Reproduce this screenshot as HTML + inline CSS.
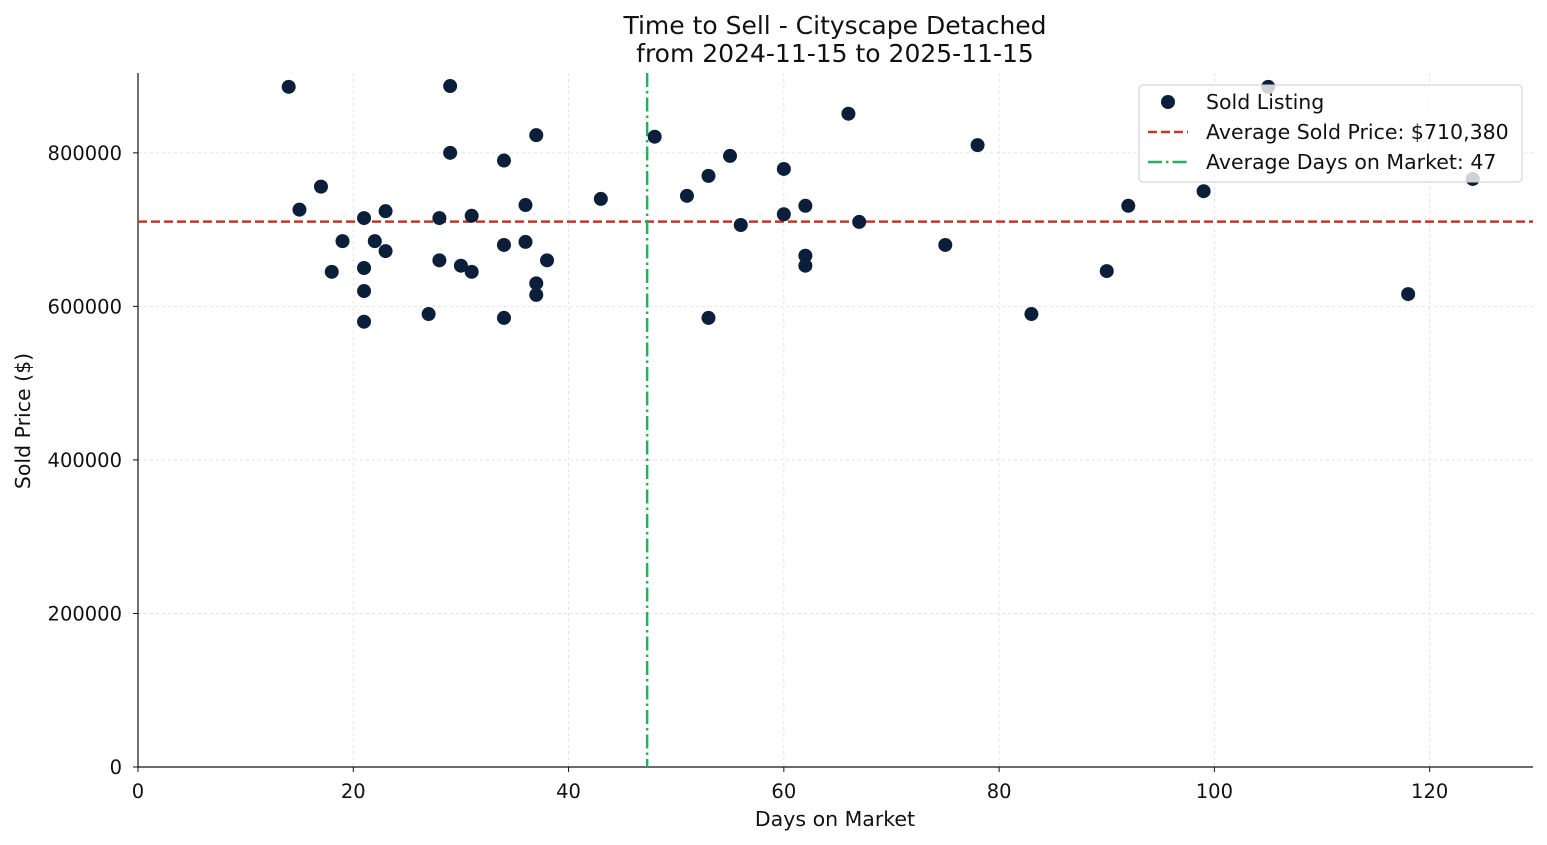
<!DOCTYPE html>
<html><head><meta charset="utf-8"><style>
body{margin:0;background:#fff;}
svg{display:block;font-family:"DejaVu Sans","Liberation Sans",sans-serif;}
</style></head><body>
<svg id="chart" width="1547" height="845" xmlns="http://www.w3.org/2000/svg">
<rect width="1547" height="845" fill="#fff"/>
<g id="grid"></g>
<g id="axes"></g>
<g id="marks"></g>
<text x="835" y="34" text-anchor="middle" font-size="25" fill="#111">Time to Sell - Cityscape Detached</text>
<text x="835" y="62" text-anchor="middle" font-size="25" fill="#111">from 2024-11-15 to 2025-11-15</text>
<text x="835" y="826" text-anchor="middle" font-size="20.5" fill="#111">Days on Market</text>
<text transform="translate(30,421) rotate(-90)" text-anchor="middle" font-size="20.5" fill="#111">Sold Price ($)</text>
<g id="legend">
<rect x="1139" y="85" width="383" height="97" rx="4" fill="#fff" fill-opacity="0.8" stroke="#ccc"/>
<circle cx="1168" cy="102" r="7" fill="#0c1f3a"/>
<text x="1206" y="109" font-size="20.5" fill="#111">Sold Listing</text>
<line x1="1148" y1="132" x2="1188" y2="132" stroke="#c0392b" stroke-width="2.5" stroke-dasharray="9,4"/>
<text x="1206" y="139" font-size="20.5" fill="#111">Average Sold Price: $710,380</text>
<line x1="1148" y1="162" x2="1188" y2="162" stroke="#27ae60" stroke-width="2.5" stroke-dasharray="14,4,2.5,4"/>
<text x="1206" y="169" font-size="20.5" fill="#111">Average Days on Market: 47</text>
</g>
</svg>
<script>
const days=[14,15,17,18,19,21,21,21,21,22,23,23,27,28,28,29,29,30,31,31,34,34,34,36,36,37,37,37,38,43,48,51,53,53,55,56,60,60,62,62,62,66,67,75,78,83,90,92,99,105,118,124];
const prices=[886000,726000,756000,645000,685000,715000,650000,620000,580000,685000,724000,672000,590000,715000,660000,887000,800000,653000,718000,645000,790000,680000,585000,732000,684000,823000,630000,615000,660000,740000,821000,744000,770000,585000,796000,706000,779000,720000,731000,666000,653000,851000,710000,680000,810000,590000,646000,731000,750000,886000,616000,766000];
const avgPrice=[710380];
const avgDays=[47.3];
const xTicks=[0,20,40,60,80,100,120];
const yTicks=[0,200000,400000,600000,800000];
const L=138,R=1533,T=73,B=767,XMAX=129.6,YMAX=904000;
const xs=v=>L+v/XMAX*(R-L), ys=v=>B-v/YMAX*(B-T);
const NS="http://www.w3.org/2000/svg";
function mk(p,tag,a){const e=document.createElementNS(NS,tag);for(const k in a)e.setAttribute(k,a[k]);document.getElementById(p).appendChild(e);return e;}
xTicks.forEach(t=>{
 if(t>0){const g=mk('grid','line',{x1:xs(t),x2:xs(t),y1:T,y2:B,stroke:'#ddd','stroke-width':0.8,'stroke-dasharray':'3,3'});
 
 }
 const k=mk('axes','line',{x1:xs(t),x2:xs(t),y1:B,y2:B+5,stroke:'#111'});
 
 
 const l=mk('axes','text',{x:xs(t),y:B+31,'text-anchor':'middle','font-size':19.5,fill:'#111'});l.textContent=t;
 
 
});
yTicks.forEach(t=>{
 if(t>0){const g=mk('grid','line',{x1:L,x2:R,y1:ys(t),y2:ys(t),stroke:'#ddd','stroke-width':0.8,'stroke-dasharray':'3,3'});
 
 }
 const k=mk('axes','line',{x1:L-5,x2:L,y1:ys(t),y2:ys(t),stroke:'#111'});
 
 
 const l=mk('axes','text',{x:L-16,y:ys(t)+7,'text-anchor':'end','font-size':19.5,fill:'#111'});l.textContent=t;
 
 
});
const ax=mk('axes','path',{d:`M${L},${T}V${B}H${R}`,fill:'none',stroke:'#111','stroke-width':1.2});


const hl=mk('marks','line',{x1:L,x2:R,y1:ys(avgPrice[0]),y2:ys(avgPrice[0]),stroke:'#c0392b','stroke-width':2.5,'stroke-dasharray':'9,4'});


const vl=mk('marks','line',{x1:xs(avgDays[0]),x2:xs(avgDays[0]),y1:T,y2:B,stroke:'#27ae60','stroke-width':2.5,'stroke-dasharray':'14,4,2.5,4'});


days.forEach((d,i)=>{
 const c=mk('marks','circle',{cx:xs(d),cy:ys(prices[i]),r:7,fill:'#0c1f3a'});
 
 
});
const svg=document.getElementById('chart');svg.appendChild(document.getElementById('legend'));
</script>
</body></html>
